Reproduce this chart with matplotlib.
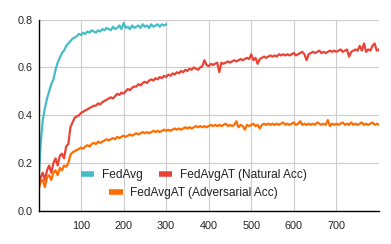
import matplotlib
matplotlib.use("Agg")
import matplotlib.pyplot as plt
import numpy as np

# accuracy per epoch, read every 5 epochs from the reference
fedavg_epochs = np.arange(0, 301, 5)
fedavg_acc = [
    0.12, 0.28, 0.38, 0.43, 0.47, 0.50, 0.53, 0.55, 0.59, 0.62,
    0.64, 0.66, 0.67, 0.69, 0.70, 0.71, 0.72, 0.725, 0.73, 0.74,
    0.735, 0.745, 0.74, 0.75, 0.745, 0.755, 0.75, 0.745, 0.755, 0.75,
    0.76, 0.755, 0.765, 0.76, 0.755, 0.77, 0.76, 0.765, 0.775, 0.76,
    0.785, 0.765, 0.77, 0.76, 0.775, 0.765, 0.77, 0.775, 0.765, 0.78,
    0.77, 0.775, 0.765, 0.78, 0.77, 0.775, 0.78, 0.77, 0.78, 0.775,
    0.78,
]

at_epochs = np.arange(0, 801, 5)
at_natural_acc = [
    0.10, 0.14, 0.16, 0.13, 0.17, 0.19, 0.16, 0.20, 0.22, 0.19,
    0.23, 0.24, 0.22, 0.27, 0.28, 0.35, 0.37, 0.39, 0.395, 0.40,
    0.41, 0.415, 0.42, 0.425, 0.43, 0.435, 0.44, 0.44, 0.45, 0.445,
    0.455, 0.46, 0.465, 0.47, 0.475, 0.47, 0.48, 0.49, 0.485, 0.495,
    0.49, 0.50, 0.51, 0.505, 0.515, 0.52, 0.52, 0.53, 0.525, 0.535,
    0.54, 0.535, 0.545, 0.55, 0.545, 0.555, 0.55, 0.56, 0.555, 0.565,
    0.56, 0.57, 0.565, 0.575, 0.57, 0.58, 0.575, 0.585, 0.58, 0.59,
    0.585, 0.595, 0.59, 0.60, 0.595, 0.59, 0.60, 0.605, 0.63, 0.61,
    0.605, 0.615, 0.61, 0.615, 0.62, 0.58, 0.62, 0.615, 0.62, 0.625,
    0.62, 0.625, 0.63, 0.625, 0.63, 0.635, 0.63, 0.635, 0.64, 0.635,
    0.655, 0.63, 0.64, 0.615, 0.635, 0.64, 0.645, 0.64, 0.645, 0.65,
    0.645, 0.65, 0.645, 0.655, 0.65, 0.655, 0.65, 0.655, 0.65, 0.655,
    0.66, 0.65, 0.655, 0.66, 0.665, 0.655, 0.63, 0.655, 0.66, 0.665,
    0.66, 0.665, 0.67, 0.66, 0.665, 0.66, 0.665, 0.67, 0.665, 0.67,
    0.665, 0.67, 0.675, 0.665, 0.67, 0.675, 0.645, 0.665, 0.67, 0.675,
    0.67, 0.69, 0.67, 0.70, 0.665, 0.675, 0.67, 0.69, 0.70, 0.67,
    0.675,
]
at_adversarial_acc = [
    0.09, 0.12, 0.13, 0.10, 0.14, 0.15, 0.13, 0.16, 0.17, 0.15,
    0.18, 0.17, 0.19, 0.185, 0.20, 0.235, 0.245, 0.25, 0.255, 0.26,
    0.265, 0.26, 0.27, 0.275, 0.27, 0.28, 0.285, 0.28, 0.29, 0.285,
    0.29, 0.295, 0.30, 0.295, 0.30, 0.305, 0.30, 0.31, 0.305, 0.31,
    0.315, 0.31, 0.315, 0.32, 0.315, 0.32, 0.325, 0.32, 0.325, 0.33,
    0.325, 0.33, 0.325, 0.33, 0.335, 0.33, 0.335, 0.33, 0.335, 0.34,
    0.335, 0.34, 0.335, 0.34, 0.345, 0.34, 0.345, 0.34, 0.345, 0.35,
    0.345, 0.35, 0.345, 0.35, 0.355, 0.35, 0.355, 0.35, 0.355, 0.35,
    0.355, 0.36, 0.355, 0.36, 0.355, 0.36, 0.355, 0.36, 0.365, 0.355,
    0.36, 0.355, 0.36, 0.375, 0.35, 0.36, 0.355, 0.34, 0.36, 0.355,
    0.36, 0.365, 0.355, 0.36, 0.345, 0.36, 0.365, 0.36, 0.365, 0.36,
    0.365, 0.36, 0.365, 0.36, 0.365, 0.37, 0.36, 0.365, 0.36, 0.365,
    0.37, 0.36, 0.365, 0.375, 0.36, 0.365, 0.36, 0.365, 0.36, 0.365,
    0.36, 0.37, 0.365, 0.36, 0.365, 0.36, 0.38, 0.355, 0.365, 0.36,
    0.365, 0.36, 0.365, 0.37, 0.36, 0.365, 0.36, 0.37, 0.36, 0.365,
    0.36, 0.365, 0.37, 0.36, 0.365, 0.36, 0.365, 0.37, 0.36, 0.365,
    0.36,
]

labels = ["FedAvg", "FedAvgAT (Natural Acc)", "FedAvgAT (Adversarial Acc)"]
colors = ["#46BDC6", "#EA4335", "#FF6D01"]
x_ticks = [100, 200, 300, 400, 500, 600, 700]
y_ticks = [0.0, 0.2, 0.4, 0.6, 0.8]

plt.rcParams["font.family"] = ["Liberation Sans", "DejaVu Sans"]
fig = plt.figure(figsize=(3.91, 2.44), dpi=100)
ax = fig.add_axes([0.0985, 0.135, 0.8705, 0.785])

for xs, ys, c, lab in [(fedavg_epochs, fedavg_acc, colors[0], labels[0]),
                       (at_epochs, at_natural_acc, colors[1], labels[1]),
                       (at_epochs, at_adversarial_acc, colors[2], labels[2])]:
    ax.plot(xs, ys, color=c, lw=1.6, label=lab)

ax.set_xlim(0, 800)
ax.set_ylim(0, 0.8)
ax.set_xticks(x_ticks)
ax.set_yticks(y_ticks)
ax.set_yticklabels([f"{v:.1f}" for v in y_ticks])
ax.tick_params(length=0, labelsize=7.8, colors="#222222")
ax.tick_params(axis="x", pad=6.8)
ax.tick_params(axis="y", pad=4.5)
ax.grid(True, color="#CCCCCC", lw=0.8)
ax.set_axisbelow(True)
for s in ["top", "right"]:
    ax.spines[s].set_visible(False)
for s in ["left", "bottom"]:
    ax.spines[s].set_color("black")
    ax.spines[s].set_linewidth(1.0)

# legend: two entries on the first row, the third centred below
proxies = [plt.Line2D([], [], color=c, lw=4, solid_capstyle="butt") for c in colors]
kw = dict(frameon=False, fontsize=8.6, handlelength=1.1, handletextpad=0.64,
          columnspacing=1.4, borderpad=0, loc="center", labelcolor="#222222")
leg1 = ax.legend(proxies[:2], labels[:2], ncol=2, bbox_to_anchor=(0.456, 0.188), **kw)
ax.add_artist(leg1)
ax.legend(proxies[2:], labels[2:], bbox_to_anchor=(0.456, 0.094), **kw)

fig.savefig("out.png", dpi=100)
